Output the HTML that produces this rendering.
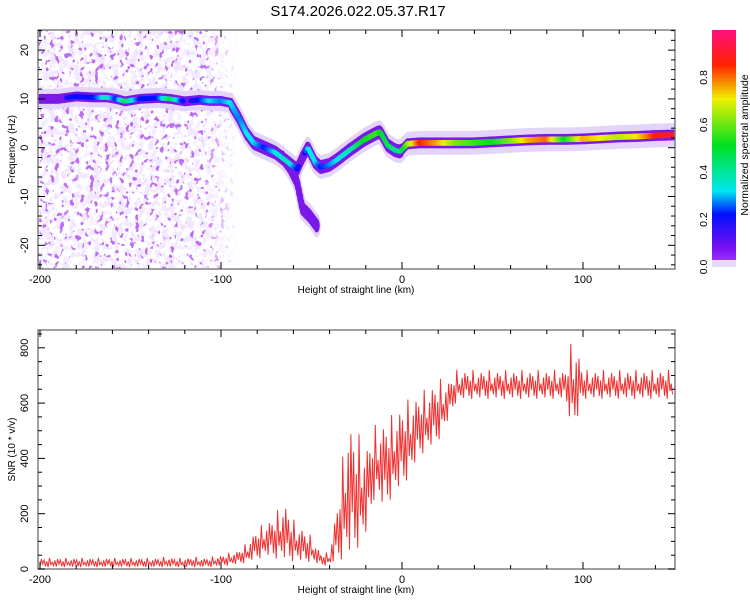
<!DOCTYPE html>
<html><head><meta charset="utf-8"><style>
html,body{margin:0;padding:0;background:#fff}
svg{display:block;font-family:"Liberation Sans",Arial,sans-serif}
</style></head><body>
<svg id="c" width="750" height="600" viewBox="0 0 750 600" xmlns="http://www.w3.org/2000/svg">
<defs>
<clipPath id="clipTop"><rect x="38" y="30" width="637" height="239"/></clipPath>
<clipPath id="clipBot"><rect x="38" y="330" width="637" height="239"/></clipPath>
<filter id="n1" x="0" y="0" width="1" height="1" filterUnits="objectBoundingBox">
<feTurbulence type="fractalNoise" baseFrequency="0.16 0.14" numOctaves="3" seed="4"/>
<feColorMatrix type="matrix" values="0 0 0 0 0.88  0 0 0 0 0.8  0 0 0 0 0.99  6 0 0 0 -2.7"/>
</filter>
<filter id="n2" x="0" y="0" width="1" height="1" filterUnits="objectBoundingBox">
<feTurbulence type="fractalNoise" baseFrequency="0.2 0.17" numOctaves="2" seed="9"/>
<feColorMatrix type="matrix" values="0 0 0 0 0.5  0 0 0 0 0.15  0 0 0 0 0.88  14 0 0 0 -8.6"/>
</filter>
<linearGradient id="fade" x1="0" x2="1" y1="0" y2="0">
<stop offset="0" stop-color="#fff"/><stop offset="0.82" stop-color="#fff"/><stop offset="1" stop-color="#000"/>
</linearGradient>
<mask id="fadeMask"><rect x="38" y="30" width="200" height="239" fill="url(#fade)"/></mask>
<linearGradient id="cbar" x1="0" y1="1" x2="0" y2="0">
<stop offset="0" stop-color="#9a30ff"/><stop offset="0.05" stop-color="#7a10f0"/>
<stop offset="0.2" stop-color="#0010ff"/><stop offset="0.3" stop-color="#00e8f0"/>
<stop offset="0.5" stop-color="#00e020"/><stop offset="0.7" stop-color="#f0f000"/>
<stop offset="0.85" stop-color="#ff2000"/><stop offset="1" stop-color="#ff1080"/>
</linearGradient>
</defs>
<text x="358" y="16" font-size="15" text-anchor="middle">S174.2026.022.05.37.R17</text>

<g>
<g clip-path="url(#clipTop)">
<g mask="url(#fadeMask)">
<rect x="38" y="30" width="200" height="239" fill="#000" filter="url(#n1)"/>
<rect x="38" y="30" width="200" height="239" fill="#000" filter="url(#n2)"/>
</g>
<g id="ridge"></g>
</g>
<g id="axTop"></g>
</g>
<g>
<rect x="712" y="30" width="24" height="230" fill="url(#cbar)"/>
<rect x="712" y="260" width="24" height="7" fill="#e6d8fb"/>
<g id="cbTicks"></g>
<text transform="translate(744,145) rotate(-90)" font-size="10.5" text-anchor="middle" dy="4">Normalized spectral amplitude</text>
</g>

<g>
<g clip-path="url(#clipBot)"><path id="snrLine" fill="none" stroke="#f03030" stroke-width="1"/></g>
<g id="axBot"></g>
</g>
</svg>
<script>
// ---- spectrogram ridge data ----
const ridgeKm = [-200,-190,-180,-170,-163,-158,-153,-145,-135,-128,-120,-112,-106,-100,-95,-90,-86,-82,-76,-70,-63,-58,-55,-52,-48,-45,-40,-36,-29,-21,-14,-12,-8,-4,-1,3,10,20,30,40,50,60,70,80,90,100,110,120,130,140,150];
const ridgeFreq = [10,10,10.5,10.3,10.3,10,9.5,10,10.2,10,9.5,9.8,9.6,9.6,9.2,6,3,1,0,-1,-3,-4.5,-2,0,-3,-4,-3.5,-2.5,-0.5,1.6,3,3.2,0.5,-0.5,-0.8,0.8,1,1,1,1,1.2,1.4,1.6,1.7,1.7,1.8,2,2.2,2.3,2.5,2.6];
const ridgeAmp = [0.15,0.15,0.2,0.2,0.35,0.2,0.45,0.2,0.2,0.45,0.15,0.2,0.3,0.25,0.3,0.25,0.3,0.3,0.2,0.3,0.35,0.2,0.1,0.3,0.3,0.2,0.25,0.3,0.35,0.5,0.55,0.5,0.45,0.4,0.4,0.6,0.85,0.75,0.6,0.55,0.5,0.6,0.75,0.8,0.5,0.75,0.7,0.65,0.7,0.85,0.9];
const branchKm = [-66,-62,-58,-55,-51,-47];
const branchFreq = [-2,-4,-7,-12.5,-14,-16];
const branchAmp = [0.15,0.12,0.1,0.12,0.1,0.08];
const freqTicks = [-20,-10,0,10,20];
const kmTicks = [-200,-100,0,100];
// ---- SNR data (5 km steps, -200..150) ----
const snrKm = [-200,-195,-190,-185,-180,-175,-170,-165,-160,-155,-150,-145,-140,-135,-130,-125,-120,-115,-110,-105,-100,-95,-90,-85,-80,-75,-70,-65,-60,-55,-50,-45,-40,-35,-30,-25,-20,-15,-10,-5,0,5,10,15,20,25,30,35,40,45,50,55,60,65,70,75,80,85,90,95,100,105,110,115,120,125,130,135,140,145,150];
const snrLo = [5,5,5,5,5,5,5,5,5,5,5,5,5,5,5,5,5,5,5,5,10,10,15,20,30,40,30,20,20,20,20,10,10,20,10,50,100,250,200,250,280,330,400,420,450,520,600,610,610,610,610,610,610,610,610,610,610,610,610,470,610,610,610,610,610,610,610,610,610,610,610];
const snrHi = [40,40,40,40,40,40,40,40,40,40,40,40,40,40,45,40,40,45,40,45,50,60,70,100,150,170,200,250,180,150,120,60,60,280,560,500,450,520,540,560,600,620,640,660,690,680,720,720,720,720,720,720,720,720,720,720,720,720,720,864,720,720,720,720,720,720,720,720,720,720,720];
const snrTicks = [0,200,400,600,800];
const cbTicks = [0.0,0.2,0.4,0.6,0.8];

const NS = "http://www.w3.org/2000/svg";
const xS = k => 40 + (k + 200) * 1.81;
const yF = f => 147.7 - f * 4.88;
const yS = v => 569 - v * 0.2765;
function el(tag, attrs, parent){const e=document.createElementNS(NS,tag);for(const k in attrs)e.setAttribute(k,attrs[k]);parent.appendChild(e);return e;}
function interp(xs, ys, x){for(let i=0;i<xs.length-1;i++){if(x>=xs[i]&&x<=xs[i+1]){const t=(x-xs[i])/(xs[i+1]-xs[i]);return ys[i]+t*(ys[i+1]-ys[i]);}}return ys[ys.length-1];}
const cStops=[[0,[154,48,255]],[0.05,[122,16,240]],[0.2,[0,16,255]],[0.3,[0,232,240]],[0.5,[0,224,32]],[0.7,[240,240,0]],[0.85,[255,32,0]],[1,[255,16,128]]];
function cmap(a){for(let i=0;i<cStops.length-1;i++){const[a0,c0]=cStops[i],[a1,c1]=cStops[i+1];if(a<=a1){const t=(a-a0)/(a1-a0);return "rgb("+c0.map((c,j)=>Math.round(c+t*(c1[j]-c0[j]))).join(",")+")";}}return "rgb(255,16,128)";}

// ridge drawing
const ridge = document.getElementById('ridge');
const halo = el('g',{},ridge), mid = el('g',{},ridge), core = el('g',{},ridge);
function drawTrack(kms, fs, as, name){
  for(let k=kms[0]; k<=kms[kms.length-1]; k+=0.7){
    const f=interp(kms,fs,k), a=interp(kms,as,k), cx=xS(k), cy=yF(f);
    const h=el('ellipse',{cx:cx,cy:cy,rx:4,ry:k<-95?10:12,fill:'#e4d4fa'},halo);
    
    
    const m=el('ellipse',{cx:cx,cy:cy,rx:3,ry:k<-95?5:(k<0?7:5.5),fill:'#7a18e8'},mid);
    
    
    if(a>0.17){
      const c=el('ellipse',{cx:cx,cy:cy,rx:2.5,ry:a>0.5?3:2.5,fill:cmap(a)},core);
      
      
    }
  }
}
drawTrack(ridgeKm, ridgeFreq, ridgeAmp, 'ridge');
drawTrack(branchKm, branchFreq, branchAmp, 'branch');

// axes
function frame(g, top, bottom, yTicks, yFn, minorStep, yMin, yMax, ylabel, lblPrefix){
  el('rect',{x:38,y:top,width:637,height:bottom-top,fill:'none',stroke:'#808080','stroke-width':1.5},g);
  for(let k=-200;k<=150;k+=20){
    const x=xS(k), L=(k%100===0)?7:4;
    el('line',{x1:x,x2:x,y1:top,y2:top+L,stroke:'#000'},g);
    el('line',{x1:x,x2:x,y1:bottom,y2:bottom-L,stroke:'#000'},g);
  }
  for(let v=yMin; v<=yMax; v+=minorStep){
    const y=yFn(v); if(y<top||y>bottom)continue;
    const major=yTicks.includes(v), L=major?7:4;
    el('line',{x1:38,x2:38+L,y1:y,y2:y,stroke:'#000'},g);
    el('line',{x1:675,x2:675-L,y1:y,y2:y,stroke:'#000'},g);
  }
  kmTicks.forEach(k=>{
    const t=el('text',{x:xS(k),y:bottom+14,'font-size':11,'text-anchor':'middle'},g);
    t.textContent=k;
    
    
  });
  yTicks.forEach(v=>{
    const t=el('text',{transform:'translate(28,'+yFn(v)+') rotate(-90)','font-size':11,'text-anchor':'middle',dy:0},g);
    t.textContent=v;
    
    
  });
  const xt=el('text',{x:356,y:bottom+24,'font-size':10,'text-anchor':'middle'},g);
  xt.textContent='Height of straight line (km)';
  
  
  const yt=el('text',{transform:'translate(15,'+((top+bottom)/2)+') rotate(-90)','font-size':10,'text-anchor':'middle'},g);
  yt.textContent=ylabel;
  
  
}
frame(document.getElementById('axTop'),30,269,freqTicks,yF,2,-24,24,'Frequency (Hz)','spectrogram');
frame(document.getElementById('axBot'),330,569,snrTicks,yS,50,0,850,'SNR (10 * v/v)','snr');

// colorbar ticks
const cb=document.getElementById('cbTicks');
cbTicks.forEach(v=>{
  const y=267-v*237;
  const t=el('text',{transform:'translate(707,'+y+') rotate(-90)','font-size':10.5,'text-anchor':'middle'},cb);
  t.textContent=v.toFixed(1);
  
  
});

// SNR line: zigzag between low/high envelope
const pat=[0.1,0.9,0.35,0.8,0.15,0.65,0.05,1,0.3,0.55,0.2,0.75];
let d='', i=0;
for(let k=-200;k<=150;k+=0.75,i++){
  const lo=interp(snrKm,snrLo,k), hi=interp(snrKm,snrHi,k);
  const v=lo+(hi-lo)*pat[i%pat.length];
  d+=(i?'L':'M')+xS(k).toFixed(1)+' '+yS(v).toFixed(1);
}
document.getElementById('snrLine').setAttribute('d',d);
</script>
</body></html>
